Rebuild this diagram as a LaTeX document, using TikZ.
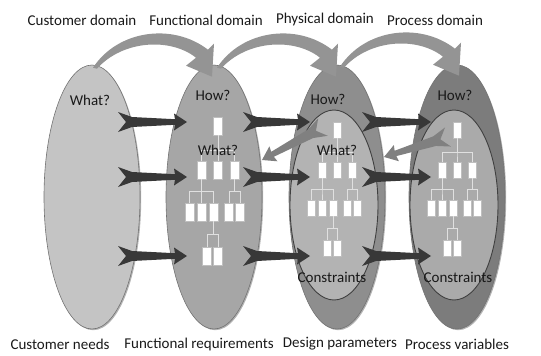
\documentclass[tikz,border=0pt]{standalone}
\usepackage{fontspec}
\setmainfont{Carlito}
\usepackage{xcolor}
\usetikzlibrary{shadows,calc,shapes.geometric}

\definecolor{custfill}{HTML}{C4C4C4}
\definecolor{funcfill}{HTML}{A6A6A6}
\definecolor{physfill}{HTML}{8E8E8E}
\definecolor{physcore}{HTML}{B3B3B3}
\definecolor{procfill}{HTML}{7C7C7C}
\definecolor{proccore}{HTML}{AAAAAA}

\tikzset{
  domainoval/.style={ellipse, minimum width=96pt, minimum height=264pt, inner sep=0pt,
    draw=black!55, line width=0.6pt,
    drop shadow={shadow xshift=1.2pt, shadow yshift=-1.2pt, opacity=0.6}},
  coreoval/.style={ellipse, minimum width=88pt, minimum height=190pt, inner sep=0pt,
    draw=black!75, line width=0.9pt},
  wbsbox/.style={rectangle, draw=black!25, fill=white, minimum width=8.5pt,
    minimum height=16.5pt, inner sep=0pt},
  wbsline/.style={draw=black!12, line width=0.7pt},
  lbl/.style={font=\fontsize{15}{18}\selectfont, text=black!90, inner sep=0pt},
  darkarrow/.style={fill=black!78},
  backarrow/.style={fill=black!50},
  swoopfill/.style={fill=black!42},
  pics/wbs/.style={code={
    % boxes of the hierarchy
    \node[wbsbox] (-t) at (0,0) {};
    \node[wbsbox] (-a) at (-15,-40) {};
    \node[wbsbox] (-b) at (0,-40) {};
    \node[wbsbox] (-c) at (15,-40) {};
    \node[wbsbox] (-d) at (-26,-78) {};
    \node[wbsbox] (-e) at (-15,-78) {};
    \node[wbsbox] (-f) at (-4,-78) {};
    \node[wbsbox] (-g) at (10,-78) {};
    \node[wbsbox] (-h) at (20,-78) {};
    \node[wbsbox] (-i) at (-10,-118) {};
    \node[wbsbox] (-j) at (0,-118) {};
    % links
    \foreach \k in {a,b,c} {\draw[wbsline] (-t.south) -- ++(0,-13.5) -| (-\k.north);}
    \foreach \k in {d,e,f} {\draw[wbsline] (-a.south) -- ++(0,-10.75) -| (-\k.north);}
    \foreach \k in {g,h} {\draw[wbsline] (-c.south) -- ++(0,-10.75) -| (-\k.north);}
    \foreach \k in {i,j} {\draw[wbsline] (-f.south) -- ++(0,-11.75) -| (-\k.north);}
  }},
  pics/swoop/.style={code={
    \fill[swoopfill] (0,0) .. controls (25,38) and (80,45) .. (115,18)
      -- (121,24) -- (119,-9) -- (93,2) -- (103,10)
      .. controls (78,30) and (30,28) .. (4,-1) -- cycle;
  }}
}

% tapered block arrow from #2 to #3
\newcommand\fatarrow[3][darkarrow]{%
  \fill[#1] ($(#2)!10pt!90:(#3)$)
    -- ($(#2)!14pt!(#3)!5pt!90:(#3)$)
    -- ($(#3)!12pt!(#2)!2.8pt!90:(#3)$)
    -- ($(#3)!13pt!(#2)!8.5pt!90:(#3)$)
    -- (#3)
    -- ($(#3)!13pt!(#2)!8.5pt!-90:(#3)$)
    -- ($(#3)!12pt!(#2)!2.8pt!-90:(#3)$)
    -- ($(#2)!14pt!(#3)!5pt!-90:(#3)$)
    -- ($(#2)!10pt!-90:(#3)$)
    -- ($(#2)!8pt!(#3)$) -- cycle;}

\begin{document}
\begin{tikzpicture}[x=1pt, y=1pt]
  \useasboundingbox (0,0) rectangle (541,-356);

  % Draw the four domains
  \node[domainoval, fill=custfill] (cust) at (92,-197) {};
  \node[domainoval, fill=funcfill] (func) at (214,-197) {};
  \node[domainoval, fill=physfill] (phys) at (337,-197) {};
  \node[domainoval, fill=procfill] (proc) at (457,-197) {};
  \node[coreoval, fill=physcore] (phys-core) at (334,-205) {};
  \node[coreoval, fill=proccore] (proc-core) at (454,-205) {};

  % Hierarchies inside the domains
  \pic[scale=1.1, transform shape] (fr) at (218,-126) {wbs};
  \pic (dp) at (337,-130) {wbs};
  \pic (pv) at (457,-130) {wbs};

  % Curved arrows over the top
  \pic at ($(cust.north)+(1,-3)$) {swoop};
  \pic at ($(func.north)+(3,-3)$) {swoop};
  \pic at ($(phys.north)+(3,-2)$) {swoop};

  % Ends of the mapping arrows
  \foreach \y [count=\r] in {122,177,256} {
    \coordinate (cust-o\r) at (118,-\y);
    \coordinate (func-i\r) at (187,-\y);
    \coordinate (func-o\r) at (243,-\y);
    \coordinate (phys-i\r) at (310,-\y);
    \coordinate (phys-o\r) at (362,-\y);
    \coordinate (proc-i\r) at (431,-\y);
  }
  \coordinate (phys-b) at (323,-127);
  \coordinate (func-b) at (262,-160);
  \coordinate (proc-b) at (448,-137);
  \coordinate (phys-c) at (384,-157);

  % Mapping arrows
  \foreach \r in {1,2,3} {
    \fatarrow{cust-o\r}{func-i\r}
    \fatarrow{func-o\r}{phys-i\r}
    \fatarrow{phys-o\r}{proc-i\r}
  }
  \fatarrow[backarrow]{phys-b}{func-b}
  \fatarrow[backarrow]{proc-b}{phys-c}

  % Labels in the domains
  \node[lbl] (cust-what) at (90,-100) {What?};
  \node[lbl] (func-how) at (213,-95) {How?};
  \node[lbl] (func-what) at (218,-150) {What?};
  \node[lbl] (phys-how) at (328,-99) {How?};
  \node[lbl] (phys-what) at (337,-150) {What?};
  \node[lbl] (phys-con) at (332,-277) {Constraints};
  \node[lbl] (proc-how) at (455,-95) {How?};
  \node[lbl] (proc-con) at (458,-277) {Constraints};

  % Titles and captions
  \node[lbl] (t-cust) at (82,-20) {Customer domain};
  \node[lbl] (t-func) at (206,-20) {Functional domain};
  \node[lbl] (t-phys) at (325,-20) {Physical domain};
  \node[lbl] (t-proc) at (435,-20) {Process domain};
  \node[lbl] (b-cust) at (60,-344) {Customer needs};
  \node[lbl] (b-func) at (199,-344) {Functional requirements};
  \node[lbl] (b-phys) at (340,-344) {Design parameters};
  \node[lbl] (b-proc) at (457,-344) {Process variables};
\end{tikzpicture}
\end{document}
